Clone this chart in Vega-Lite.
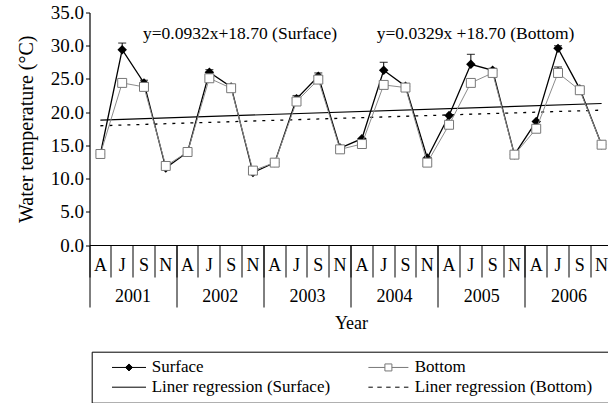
{
  "$schema": "https://vega.github.io/schema/vega-lite/v6.json",
  "width": 518.5,
  "height": 232.5,
  "autosize": {"type": "none"},
  "padding": {"left": 89.5, "top": 12.5, "right": 0, "bottom": 158},
  "config": {
    "view": {"stroke": null},
    "font": "Liberation Serif",
    "axis": {"labelFont": "Liberation Serif", "titleFont": "Liberation Serif", "labelColor": "black", "titleColor": "black", "domainColor": "black", "tickColor": "black", "grid": false, "titleFontWeight": "normal", "labelFontSize": 18, "titleFontSize": 18},
    "axisY": {"values": [0, 5, 10, 15, 20, 25, 30, 35], "format": ".1f", "tickSize": 4, "labelPadding": 2, "labelFontSize": 19, "titleFontSize": 20, "labelOverlap": false, "labelFlush": false, "labelBound": false, "titlePadding": 14, "domainWidth": 1.2},
    "legend": {"labelFont": "Liberation Serif", "titleFont": "Liberation Serif"}
  },
  "datasets": {
    "main": [
      {"t": "2001-A", "yr": "2001", "series": "Surface", "v": 13.7},
      {"t": "2001-J", "yr": "2001", "series": "Surface", "v": 29.4, "up": 30.4},
      {"t": "2001-S", "yr": "2001", "series": "Surface", "v": 24.4, "up": 24.8},
      {"t": "2001-N", "yr": "2001", "series": "Surface", "v": 11.6},
      {"t": "2002-A", "yr": "2002", "series": "Surface", "v": 14.0},
      {"t": "2002-J", "yr": "2002", "series": "Surface", "v": 26.0, "up": 26.4},
      {"t": "2002-S", "yr": "2002", "series": "Surface", "v": 23.8},
      {"t": "2002-N", "yr": "2002", "series": "Surface", "v": 10.9},
      {"t": "2003-A", "yr": "2003", "series": "Surface", "v": 12.4},
      {"t": "2003-J", "yr": "2003", "series": "Surface", "v": 22.0, "up": 22.5},
      {"t": "2003-S", "yr": "2003", "series": "Surface", "v": 25.4, "up": 25.9},
      {"t": "2003-N", "yr": "2003", "series": "Surface", "v": 14.6},
      {"t": "2004-A", "yr": "2004", "series": "Surface", "v": 16.0},
      {"t": "2004-J", "yr": "2004", "series": "Surface", "v": 26.3, "up": 27.5},
      {"t": "2004-S", "yr": "2004", "series": "Surface", "v": 23.9},
      {"t": "2004-N", "yr": "2004", "series": "Surface", "v": 13.1},
      {"t": "2005-A", "yr": "2005", "series": "Surface", "v": 19.5},
      {"t": "2005-J", "yr": "2005", "series": "Surface", "v": 27.2, "up": 28.7},
      {"t": "2005-S", "yr": "2005", "series": "Surface", "v": 26.3, "up": 26.6},
      {"t": "2005-N", "yr": "2005", "series": "Surface", "v": 13.6},
      {"t": "2006-A", "yr": "2006", "series": "Surface", "v": 18.6},
      {"t": "2006-J", "yr": "2006", "series": "Surface", "v": 29.6, "up": 30.0},
      {"t": "2006-S", "yr": "2006", "series": "Surface", "v": 23.5},
      {"t": "2006-N", "yr": "2006", "series": "Surface", "v": 15.1},
      {"t": "2001-A", "yr": "2001", "series": "Bottom", "v": 13.7},
      {"t": "2001-J", "yr": "2001", "series": "Bottom", "v": 24.4},
      {"t": "2001-S", "yr": "2001", "series": "Bottom", "v": 23.8},
      {"t": "2001-N", "yr": "2001", "series": "Bottom", "v": 11.9},
      {"t": "2002-A", "yr": "2002", "series": "Bottom", "v": 14.0},
      {"t": "2002-J", "yr": "2002", "series": "Bottom", "v": 25.1},
      {"t": "2002-S", "yr": "2002", "series": "Bottom", "v": 23.6},
      {"t": "2002-N", "yr": "2002", "series": "Bottom", "v": 11.2},
      {"t": "2003-A", "yr": "2003", "series": "Bottom", "v": 12.4},
      {"t": "2003-J", "yr": "2003", "series": "Bottom", "v": 21.6},
      {"t": "2003-S", "yr": "2003", "series": "Bottom", "v": 24.9},
      {"t": "2003-N", "yr": "2003", "series": "Bottom", "v": 14.4},
      {"t": "2004-A", "yr": "2004", "series": "Bottom", "v": 15.2},
      {"t": "2004-J", "yr": "2004", "series": "Bottom", "v": 24.1},
      {"t": "2004-S", "yr": "2004", "series": "Bottom", "v": 23.7},
      {"t": "2004-N", "yr": "2004", "series": "Bottom", "v": 12.4},
      {"t": "2005-A", "yr": "2005", "series": "Bottom", "v": 18.1},
      {"t": "2005-J", "yr": "2005", "series": "Bottom", "v": 24.4},
      {"t": "2005-S", "yr": "2005", "series": "Bottom", "v": 25.9},
      {"t": "2005-N", "yr": "2005", "series": "Bottom", "v": 13.6},
      {"t": "2006-A", "yr": "2006", "series": "Bottom", "v": 17.5},
      {"t": "2006-J", "yr": "2006", "series": "Bottom", "v": 25.9, "up": 26.8},
      {"t": "2006-S", "yr": "2006", "series": "Bottom", "v": 23.3},
      {"t": "2006-N", "yr": "2006", "series": "Bottom", "v": 15.1}
    ],
    "reg": [
      {"t": "2001-A", "s": "Surface", "v": 18.8},
      {"t": "2006-N", "s": "Surface", "v": 21.3},
      {"t": "2001-A", "s": "Bottom", "v": 17.95},
      {"t": "2006-N", "s": "Bottom", "v": 20.3}
    ],
    "notes": [
      {"t": "2001-S", "v": 31.7, "grp": "Surface", "txt": "y=0.0932x+18.70 (Surface)"},
      {"t": "2004-J", "v": 31.7, "grp": "Bottom", "txt": "y=0.0329x +18.70 (Bottom)"}
    ],
    "leg": [
      {"series": "Surface"},
      {"series": "Liner regression (Surface)"},
      {"series": "Bottom"},
      {"series": "Liner regression (Bottom)"}
    ]
  },
  "layer": [
    {
      "mark": {"type": "rule", "color": "black", "strokeWidth": 1.2},
      "encoding": {"y": {"datum": 35, "type": "quantitative", "scale": {"domain": [0, 35], "nice": false}, "axis": {"title": "Water temperature (°C)"}}}
    },
    {
      "encoding": {
        "x": {
          "field": "t", "type": "nominal", "sort": null,
          "scale": {"type": "band", "domain": ["2001-A","2001-J","2001-S","2001-N","2002-A","2002-J","2002-S","2002-N","2003-A","2003-J","2003-S","2003-N","2004-A","2004-J","2004-S","2004-N","2005-A","2005-J","2005-S","2005-N","2006-A","2006-J","2006-S","2006-N"], "range": [0, 523], "paddingInner": 0, "paddingOuter": 0},
          "axis": {"orient": "bottom", "title": null, "labelExpr": "split(datum.value, '-')[1]", "bandPosition": 0, "tickSize": 32, "labelPadding": -20.3, "labelAngle": 0, "labelOverlap": false, "labelFlush": false, "labelBound": false, "domainWidth": 1.2, "tickWidth": 1}
        },
        "y": {
          "field": "v", "type": "quantitative",
          "scale": {"domain": [0, 35], "nice": false},
          "axis": {"title": "Water temperature (°C)"}
        }
      },
      "layer": [
        {
          "data": {"name": "reg"},
          "transform": [{"filter": "datum.s == 'Surface'"}],
          "mark": {"type": "line", "color": "black", "strokeWidth": 1.2}
        },
        {
          "data": {"name": "reg"},
          "transform": [{"filter": "datum.s == 'Bottom'"}],
          "mark": {"type": "line", "color": "black", "strokeWidth": 1.3, "strokeDash": [3, 6]}
        },
        {
          "data": {"name": "main"},
          "transform": [{"filter": "datum.series == 'Surface'"}],
          "mark": {"type": "line", "color": "black", "strokeWidth": 1.3}
        },
        {
          "data": {"name": "main"},
          "transform": [{"filter": "datum.up != null"}],
          "mark": {"type": "rule", "color": "black", "strokeWidth": 1},
          "encoding": {"y2": {"field": "up"}}
        },
        {
          "data": {"name": "main"},
          "transform": [{"filter": "datum.up != null"}],
          "mark": {"type": "tick", "color": "black", "size": 8, "thickness": 1.2, "orient": "horizontal"},
          "encoding": {"y": {"field": "up", "type": "quantitative"}}
        },
        {
          "data": {"name": "main"},
          "transform": [{"filter": "datum.series == 'Surface'"}],
          "mark": {"type": "point", "shape": "diamond", "filled": true, "color": "black", "size": 90, "opacity": 1}
        },
        {
          "data": {"name": "main"},
          "transform": [{"filter": "datum.series == 'Bottom'"}],
          "mark": {"type": "line", "color": "#8c8c8c", "strokeWidth": 1}
        },
        {
          "data": {"name": "main"},
          "transform": [{"filter": "datum.series == 'Bottom'"}],
          "mark": {"type": "point", "shape": "square", "filled": true, "fill": "white", "stroke": "#777777", "strokeWidth": 1, "size": 80, "opacity": 1}
        },
        {
          "data": {"name": "notes"},
          "transform": [{"filter": "datum.grp == 'Surface'"}],
          "mark": {"type": "text", "align": "left", "baseline": "middle", "font": "Liberation Serif", "fontSize": 17.5, "color": "black", "dx": -1},
          "encoding": {"text": {"field": "txt"}}
        },
        {
          "data": {"name": "notes"},
          "transform": [{"filter": "datum.grp == 'Bottom'"}],
          "mark": {"type": "text", "align": "left", "baseline": "middle", "font": "Liberation Serif", "fontSize": 17.5, "color": "black", "dx": -7},
          "encoding": {"text": {"field": "txt"}}
        }
      ]
    },
    {
      "data": {"name": "main"},
      "mark": {"type": "point", "opacity": 0},
      "encoding": {
        "x": {
          "field": "yr", "type": "nominal", "sort": null,
          "scale": {"type": "band", "range": [0, 523], "paddingInner": 0, "paddingOuter": 0},
          "axis": {"orient": "bottom", "title": "Year", "bandPosition": 0, "tickSize": 62, "labelPadding": -19.3, "labelAngle": 0, "domain": false, "titlePadding": 6.7, "labelOverlap": false, "labelFlush": false, "labelBound": false}
        }
      }
    },
    {
      "data": {"name": "leg"},
      "mark": {"type": "point", "opacity": 0, "size": 100, "strokeWidth": 1},
      "encoding": {
        "shape": {
          "field": "series", "type": "nominal",
          "scale": {"domain": ["Surface", "Liner regression (Surface)", "Bottom", "Liner regression (Bottom)"], "range": ["M-3.4,0H3.4M0,-0.7L0.7,0L0,0.7L-0.7,0Z", "M-3.4,0H3.4", "M-4.72,0H-1.42M-0.02,0H3.28M-1.42,-0.7H-0.02V0.7H-1.42Z", "M-4.72,0H-3.83M-2.94,0H-2.05M-1.16,0H-0.27M0.62,0H1.51M2.39,0H3.28"]},
          "legend": {
            "title": " ", "titleOrient": "right", "titlePadding": 40,
            "orient": "none", "legendX": 2.2, "legendY": 339.2, "direction": "vertical", "columns": 2,
            "columnPadding": 31, "rowPadding": 2, "padding": 7,
            "strokeColor": "black", "fillColor": "white",
            "labelFontSize": 17, "labelColor": "black", "labelLimit": 400,
            "symbolOffset": 21.8, "labelOffset": 14.2, "symbolSize": 100, "symbolStrokeWidth": 1, "symbolOpacity": 1
          }
        },
        "fill": {
          "field": "series", "type": "nominal",
          "scale": {"domain": ["Surface", "Liner regression (Surface)", "Bottom", "Liner regression (Bottom)"], "range": ["black", "transparent", "white", "transparent"]}
        },
        "stroke": {
          "field": "series", "type": "nominal",
          "scale": {"domain": ["Surface", "Liner regression (Surface)", "Bottom", "Liner regression (Bottom)"], "range": ["black", "black", "#777777", "black"]}
        }
      }
    }
  ],
  "resolve": {"scale": {"x": "independent"}, "axis": {"x": "independent"}}
}
